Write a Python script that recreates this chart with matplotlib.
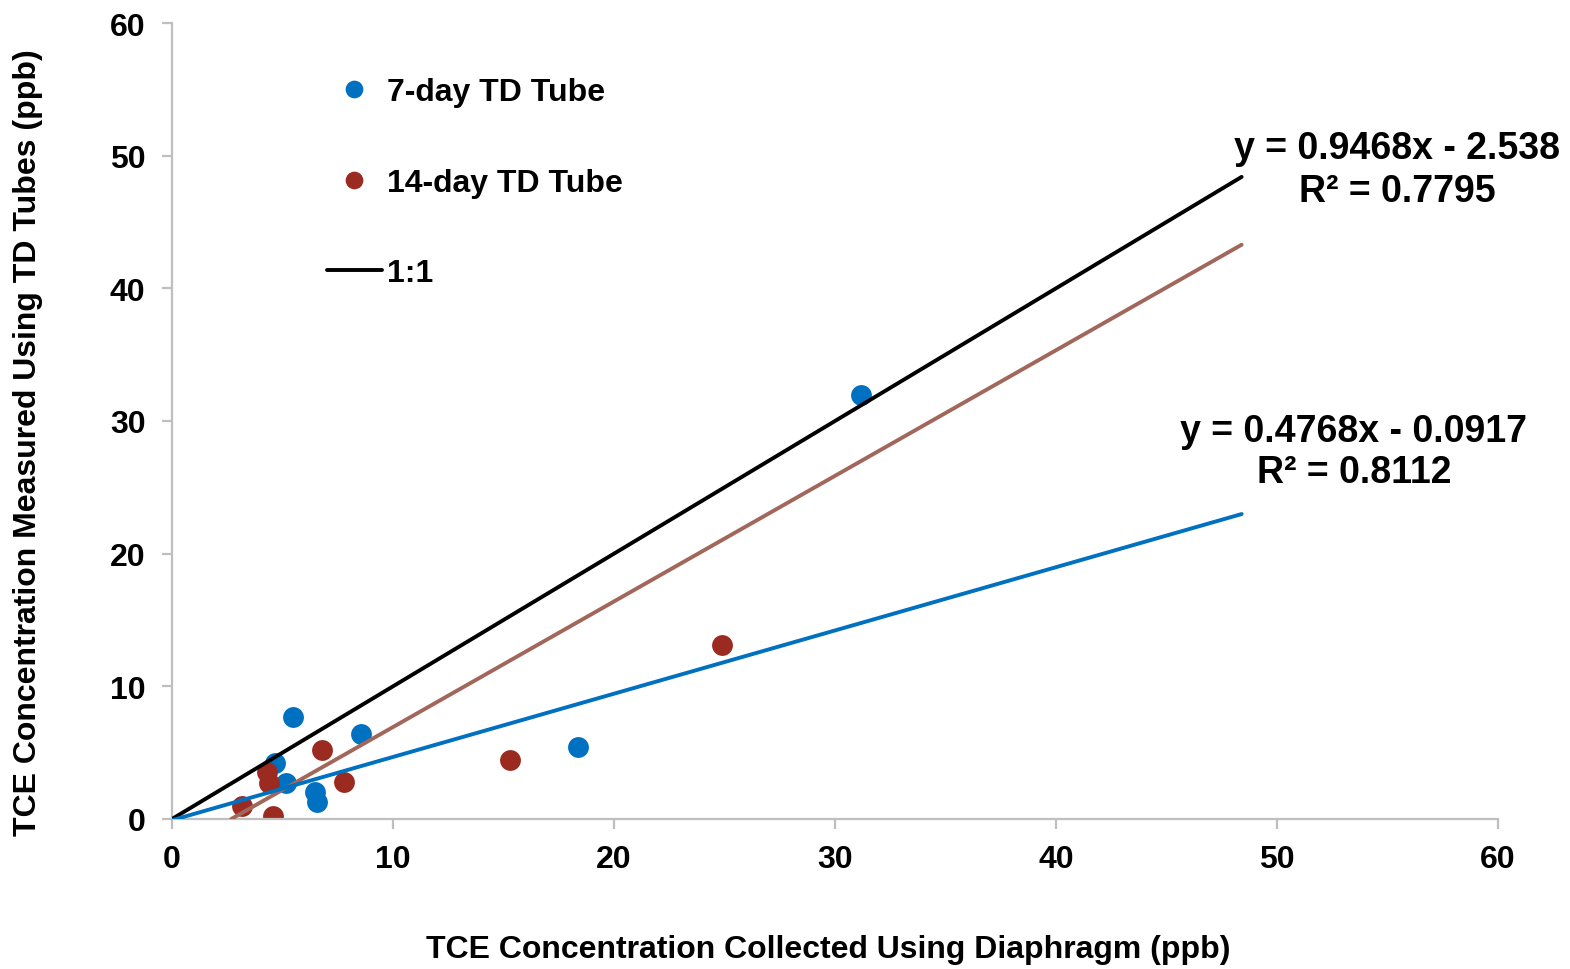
import numpy as np
import matplotlib
matplotlib.use("Agg")
import matplotlib.pyplot as plt

plt.rcParams['font.family'] = ['Liberation Sans', 'DejaVu Sans']
plt.rcParams['font.weight'] = 'bold'

# ---- data ----
day7_x = [31.16, 5.49, 8.57, 18.36, 4.68, 5.18, 6.47, 6.58]
day7_y = [31.95, 7.71, 6.41, 5.43, 4.20, 2.71, 2.01, 1.26]
day14_x = [24.87, 15.28, 6.80, 7.78, 4.30, 4.39, 3.17, 4.59]
day14_y = [13.11, 4.45, 5.20, 2.81, 3.52, 2.69, 1.00, 0.25]

series_labels = ["7-day TD Tube", "14-day TD Tube", "1:1"]
fit_upper = {"slope": 0.9468, "intercept": -2.538, "r2": 0.7795}
fit_lower = {"slope": 0.4768, "intercept": -0.0917, "r2": 0.8112}
line_x_max = 48.4

ticks = [0, 10, 20, 30, 40, 50, 60]
xlabel = "TCE Concentration Collected Using Diaphragm (ppb)"
ylabel = "TCE Concentration Measured Using TD Tubes (ppb)"

# ---- style ----
BLUE = "#0070C0"
RED = "#9B2B20"
BROWN = "#A0675A"
GRAY = "#BFBFBF"
W, H = 1570, 970

fig = plt.figure(figsize=(W / 100, H / 100), dpi=100)
ax = fig.add_axes([172 / W, (H - 820) / H, (1498 - 172) / W, (820 - 24) / H])

ax.plot(day7_x, day7_y, 'o', color=BLUE, markersize=15, zorder=2,
        label=series_labels[0], markeredgewidth=0)
ax.plot(day14_x, day14_y, 'o', color=RED, markersize=15, zorder=2.1,
        label=series_labels[1], markeredgewidth=0)

# 1:1 line
x11 = np.array([0.0, line_x_max])
ax.plot(x11, x11, color='black', lw=2.8, zorder=3, label=series_labels[2],
        solid_capstyle='round')

# trendlines
xu0 = max(0.0, -fit_upper["intercept"] / fit_upper["slope"])
xu = np.array([xu0, line_x_max])
ax.plot(xu, fit_upper["slope"] * xu + fit_upper["intercept"], color=BROWN,
        lw=2.8, zorder=3, solid_capstyle='round')
xl = np.array([0.0, line_x_max])
ax.plot(xl, fit_lower["slope"] * xl + fit_lower["intercept"], color=BLUE,
        lw=2.8, zorder=3, solid_capstyle='round')

ax.set_xlim(0, 60)
ax.set_ylim(0, 60)
ax.set_xticks(ticks)
ax.set_yticks(ticks)
ax.set_xticklabels([str(t) for t in ticks])
ax.set_yticklabels([str(t) for t in ticks])

for s in ['top', 'right']:
    ax.spines[s].set_visible(False)
for s in ['left', 'bottom']:
    ax.spines[s].set_color(GRAY)
    ax.spines[s].set_linewidth(1.6)
ax.tick_params(axis='both', colors=GRAY, length=7, width=1.6, direction='out',
               labelcolor='black', labelsize=23)
ax.tick_params(axis='x', pad=11)
ax.tick_params(axis='y', pad=12)
for lab in ax.get_xticklabels() + ax.get_yticklabels():
    lab.set_fontweight('bold')

ax.set_xlabel(xlabel, fontsize=23, fontweight='bold')
ax.set_ylabel(ylabel, fontsize=23, fontweight='bold')
ax.xaxis.set_label_coords((828 - 172) / 1326, (820 - 950) / 796)
ax.xaxis.label.set_va('center')
ax.yaxis.set_label_coords((28 - 172) / 1326, (820 - 443) / 796)
ax.yaxis.label.set_va('center')

handles, labels = ax.get_legend_handles_labels()
leg = ax.legend(handles, labels, loc='upper left',
                bbox_to_anchor=(327 / W, 1 - 78 / H),
                bbox_transform=fig.transFigure, frameon=False,
                prop={'weight': 'bold', 'size': 23},
                handlelength=1.72, handletextpad=0.16, labelspacing=1.9,
                borderpad=0, borderaxespad=0, markerscale=0.85, numpoints=1)

def ftext(x, y, s, size):
    fig.text(x / W, 1 - y / H, s, ha='center', va='baseline',
             fontsize=size, fontweight='bold')

ftext(1397, 159, f"y = {fit_upper['slope']}x - {abs(fit_upper['intercept'])}", 27)
ftext(1397, 202, f"R² = {fit_upper['r2']}", 27)
ftext(1354, 442, f"y = {fit_lower['slope']}x - {abs(fit_lower['intercept'])}", 27)
ftext(1354, 483, f"R² = {fit_lower['r2']}", 27)

fig.savefig("out.png", dpi=100, facecolor='white')
